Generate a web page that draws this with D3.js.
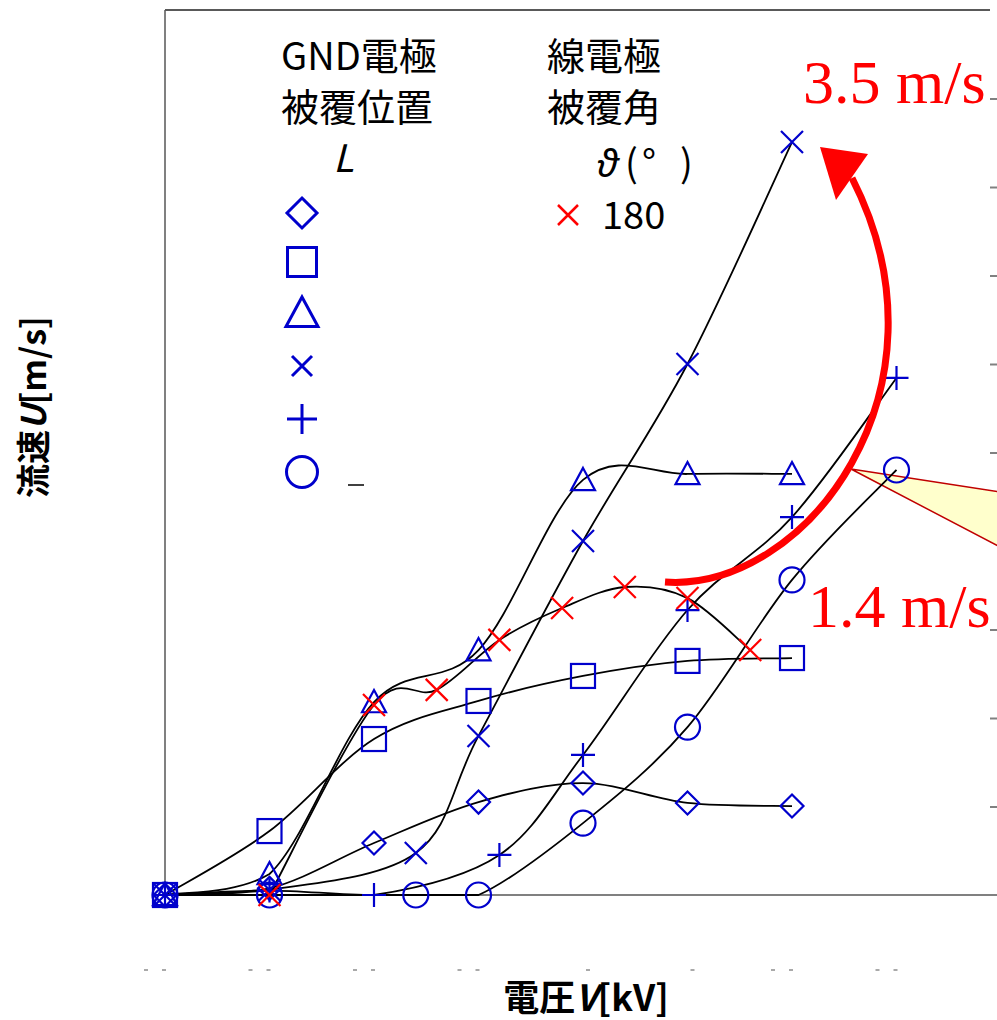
<html>
<head>
<meta charset="UTF-8">
<title>流速と電圧</title>
<style>
  body { margin: 0; background: #fff; }
  svg { display: block; background: #fff; }
  .jp { font-family: "Noto Sans CJK JP", "Noto Sans", sans-serif; }
  .note { font-family: "Liberation Serif", "DejaVu Serif", serif; fill: #ff0000; }
</style>
<script src="https://cdn.jsdelivr.net/npm/d3@7"></script>
</head>
<body>
<div id="chart"></div>
<script>
var width = 997, height = 1020;

// x ticks (kV) -- labels are hidden in the picture, only fragments show
var xTicks = [0, 1, 2, 3, 4, 5, 6, 7, 8];
var pairTicks = [0, 1, 2, 3, 6, 7];
var yTicks = [0.4, 0.8, 1.2, 1.6, 2.0, 2.4, 2.8, 3.2, 3.6];

// GND electrode coating position series
var diamondX = [0, 1, 2, 3, 4, 5, 6];
var diamondY = [0, 0.03, 0.235, 0.42, 0.506, 0.416, 0.402];
var squareX = [0, 1, 2, 3, 4, 5, 6];
var squareY = [0, 0.289, 0.705, 0.877, 0.99, 1.058, 1.071];
var triangleX = [0, 1, 2, 3, 4, 5, 6];
var triangleY = [0, 0.095, 0.872, 1.107, 1.876, 1.903, 1.903];
var crossX = [0, 1, 2.4, 3, 4, 5, 6];
var crossY = [0, 0.023, 0.19, 0.719, 1.6, 2.4, 3.403];
var plusX = [0, 1, 2, 3.2, 4, 5, 6, 7];
var plusY = [0, 0.02, 0, 0.181, 0.633, 1.288, 1.708, 2.337];
var circleX = [0, 1, 2.4, 3, 4, 5, 6, 7];
var circleY = [0, 0, 0, 0, 0.325, 0.759, 1.424, 1.921];
// wire electrode coating angle 180
var redX = [1, 2, 2.6, 3.2, 3.8, 4.4, 5, 5.6];
var redY = [0, 0.859, 0.927, 1.153, 1.297, 1.392, 1.342, 1.107];

var blue = "#0000cc", red = "#ff0000";

var series = [
  { shape: "diamond", xs: diamondX, ys: diamondY, color: blue },
  { shape: "square", xs: squareX, ys: squareY, color: blue },
  { shape: "triangle", xs: triangleX, ys: triangleY, color: blue },
  { shape: "cross", xs: crossX, ys: crossY, color: blue },
  { shape: "plus", xs: plusX, ys: plusY, color: blue },
  { shape: "circle", xs: circleX, ys: circleY, color: blue },
  { shape: "cross", xs: redX, ys: redY, color: red }
];

var svg = d3.select("#chart").append("svg")
  .attr("width", width).attr("height", height);

var xScale = d3.scaleLinear().domain([0, 8]).range([165, 1001]);
var yScale = d3.scaleLinear().domain([0, 4]).range([895, 10]);

// frame
svg.append("line").attr("x1", 165).attr("x2", 165).attr("y1", 10).attr("y2", 895)
  .attr("stroke", "#808080").attr("stroke-width", 2);
svg.append("line").attr("x1", 165).attr("x2", 990).attr("y1", 10).attr("y2", 10)
  .attr("stroke", "#595959").attr("stroke-width", 2);
svg.append("line").attr("x1", 165).attr("x2", 997).attr("y1", 895).attr("y2", 895)
  .attr("stroke", "#808080").attr("stroke-width", 2);

// right ticks only
var yAxis = d3.axisRight(yScale).tickValues(yTicks).tickSize(8).tickFormat("");
var yAxisG = svg.append("g").attr("transform", "translate(990,0)").call(yAxis);
yAxisG.select(".domain").remove();
yAxisG.selectAll("line").attr("stroke", "#808080").attr("stroke-width", 2);

// fragments of the hidden x tick labels
xTicks.forEach(function(t) {
  var xs = pairTicks.indexOf(t) >= 0 ? [xScale(t) - 19, xScale(t) - 1] : [xScale(t) + 5];
  xs.forEach(function(x) {
    svg.append("line").attr("x1", x - 2).attr("x2", x + 2).attr("y1", 970).attr("y2", 970)
      .attr("stroke", "#8c8c8c").attr("stroke-width", 1.5);
  });
});

// callout wedge
svg.append("polygon")
  .attr("points", [[851, 469], [1000, 492], [1000, 547]].map(function(p) { return p.join(","); }).join(" "))
  .attr("fill", "#ffffcc").attr("stroke", "#c00000").attr("stroke-width", 1.5);

// smoothed lines (catmull-rom style, control points kept above the baseline)
var base = yScale(0);
function smooth(pts) {
  var p = d3.path();
  p.moveTo(pts[0][0], pts[0][1]);
  for (var i = 0; i < pts.length - 1; i++) {
    var p0 = pts[i - 1] || pts[i], p1 = pts[i], p2 = pts[i + 1], p3 = pts[i + 2] || pts[i + 1];
    var c1x = p1[0] + (p2[0] - p0[0]) / 6, c1y = Math.min(base, p1[1] + (p2[1] - p0[1]) / 6);
    var c2x = p2[0] - (p3[0] - p1[0]) / 6, c2y = Math.min(base, p2[1] - (p3[1] - p1[1]) / 6);
    p.bezierCurveTo(c1x, c1y, c2x, c2y, p2[0], p2[1]);
  }
  return p.toString();
}

series.forEach(function(s) {
  var pts = s.xs.map(function(x, i) { return [xScale(x), yScale(s.ys[i])]; });
  svg.append("path").attr("d", smooth(pts))
    .attr("fill", "none").attr("stroke", "#000").attr("stroke-width", 1.8);
});

function marker(g, shape, cx, cy, r, color, sw) {
  var el;
  if (shape === "diamond") {
    el = g.append("path").attr("d", "M" + cx + "," + (cy - r) + "L" + (cx + r) + "," + cy +
      "L" + cx + "," + (cy + r) + "L" + (cx - r) + "," + cy + "Z");
  } else if (shape === "square") {
    el = g.append("rect").attr("x", cx - r).attr("y", cy - r).attr("width", 2 * r).attr("height", 2 * r);
  } else if (shape === "triangle") {
    el = g.append("path").attr("d", "M" + cx + "," + (cy - r) + "L" + (cx + r) + "," + (cy + r * 0.85) +
      "L" + (cx - r) + "," + (cy + r * 0.85) + "Z");
  } else if (shape === "cross") {
    el = g.append("path").attr("d", "M" + (cx - r) + "," + (cy - r) + "L" + (cx + r) + "," + (cy + r) +
      "M" + (cx + r) + "," + (cy - r) + "L" + (cx - r) + "," + (cy + r));
  } else if (shape === "plus") {
    el = g.append("path").attr("d", "M" + (cx - r) + "," + cy + "L" + (cx + r) + "," + cy +
      "M" + cx + "," + (cy - r) + "L" + cx + "," + (cy + r));
  } else {
    el = g.append("circle").attr("cx", cx).attr("cy", cy).attr("r", r);
  }
  el.attr("fill", "none").attr("stroke", color).attr("stroke-width", sw);
}

var mg = svg.append("g");
var sizes = { diamond: 11.5, square: 12, triangle: 12, cross: 11, plus: 12, circle: 12.5 };
series.forEach(function(s) {
  s.xs.forEach(function(x, i) {
    marker(mg, s.shape, xScale(x), yScale(s.ys[i]), sizes[s.shape], s.color, 2.2);
  });
});

// red arrow from 1.4 m/s peak to 3.5 m/s point
var x0 = 665, y0 = 582;
svg.append("path")
  .attr("d", "M" + x0 + "," + y0 + " C 805,592 960,390 852,178")
  .attr("fill", "none").attr("stroke", red).attr("stroke-width", 7);
svg.append("polygon")
  .attr("points", "820,147 868,154 836,200")
  .attr("fill", red);

svg.append("text").attr("class", "note").attr("x", 803).attr("y", 103)
  .style("font-size", "62px").text("3.5 m/s");
svg.append("text").attr("class", "note").attr("x", 808).attr("y", 627)
  .style("font-size", "62px").text("1.4 m/s");

// legend
var lg = svg.append("g").attr("class", "jp").style("font-size", "38px").attr("fill", "#000");
lg.append("text").attr("x", 281).attr("y", 70).text("GND電極");
lg.append("text").attr("x", 281).attr("y", 121).text("被覆位置");
lg.append("text").attr("x", 333).attr("y", 172).style("font-style", "italic").text("L");
lg.append("text").attr("x", 547).attr("y", 70).text("線電極");
lg.append("text").attr("x", 547).attr("y", 121).text("被覆角");
var th = lg.append("text").attr("y", 177);
th.append("tspan").attr("x", 597).style("font-style", "italic").text("ϑ");
th.append("tspan").attr("x", 625).text("(");
th.append("tspan").attr("x", 642).text("°");
th.append("tspan").attr("x", 680).text(")");
lg.append("text").attr("x", 602).attr("y", 229).text("180");
marker(lg, "cross", 568, 215, 10, red, 2.5);

var legendShapes = ["diamond", "square", "triangle", "cross", "plus", "circle"];
var legendY = [213, 262, 313, 366, 419, 472];
var legendR = { diamond: 15, square: 14.5, triangle: 16, cross: 10, plus: 15, circle: 15.5 };
legendShapes.forEach(function(s, i) {
  marker(lg, s, 302, legendY[i], legendR[s], blue, 3);
});
lg.append("line").attr("x1", 348).attr("x2", 364).attr("y1", 485).attr("y2", 485)
  .attr("stroke", "#000").attr("stroke-width", 1.5);

// axis titles
var xt = svg.append("text").attr("class", "jp").attr("x", 586).attr("y", 1011)
  .attr("text-anchor", "middle").style("font-size", "36px").style("font-weight", "bold");
xt.append("tspan").text("電圧");
xt.append("tspan").style("font-style", "italic").text("V");
xt.append("tspan").text("[kV]");

var yt = svg.append("text").attr("class", "jp")
  .attr("transform", "translate(46,407) rotate(-90)")
  .attr("text-anchor", "middle").style("font-size", "34px").style("font-weight", "bold");
yt.append("tspan").text("流速");
yt.append("tspan").style("font-style", "italic").text("U");
yt.append("tspan").text("[m/s]");
</script>
</body>
</html>
